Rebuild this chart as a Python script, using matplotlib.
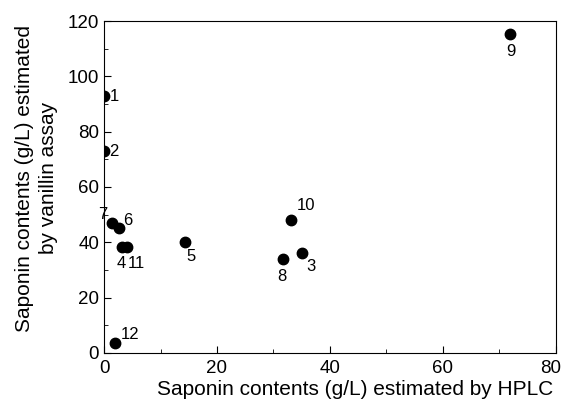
import numpy as np
from matplotlib import pyplot as plt
from matplotlib.ticker import MultipleLocator, FuncFormatter

plt.rcParams['font.family'] = ['Liberation Sans', 'DejaVu Sans']

# sample number, HPLC estimate (g/L), vanillin estimate (g/L)
sample_ids = ["1", "2", "3", "4", "5", "6", "7", "8", "9", "10", "11", "12"]
hplc = [0.0, 0.0, 35.0, 3.2, 14.3, 2.7, 1.4, 31.6, 71.9, 33.1, 4.0, 2.0]
vanillin = [93.0, 73.0, 36.2, 38.3, 40.2, 45.0, 47.0, 33.8, 115.3, 48.0, 38.3, 3.5]

x_max = 80
y_max = 120

# label offsets in points, per sample
offsets = {
    "1": (4, -6), "2": (4, -6), "3": (3, -15), "4": (-4, -17),
    "5": (1, -16), "6": (3, 0), "7": (-10, 1), "8": (-4, -18),
    "9": (-3, -18), "10": (4, 5), "11": (1, -17), "12": (4, 1),
}

fig = plt.figure(figsize=(5.64, 4.07), dpi=100)
ax = fig.add_axes([0.1844, 0.1327, 0.8014, 0.8157])

ax.plot(hplc, vanillin, 'o', color='black', markersize=7.5, clip_on=True)
for sid, x, y in zip(sample_ids, hplc, vanillin):
    dx, dy = offsets[sid]
    ax.annotate(sid, (x, y), xytext=(dx, dy), textcoords='offset points',
                fontsize=12, va='bottom', ha='left', annotation_clip=False)

ax.set_xlim(0, x_max)
ax.set_ylim(0, y_max)
ax.xaxis.set_major_locator(MultipleLocator(20))
ax.xaxis.set_minor_locator(MultipleLocator(10))
ax.yaxis.set_major_locator(MultipleLocator(20))
ax.yaxis.set_minor_locator(MultipleLocator(10))
ax.tick_params(which='both', direction='in', top=False, right=False, labelsize=13.5)
ax.tick_params(which='major', length=5)
ax.tick_params(which='minor', length=3)
ax.xaxis.set_tick_params(pad=5)

# last x tick label drawn by hand, nudged left so it stays inside the figure
ax.xaxis.set_major_formatter(FuncFormatter(lambda v, p: "" if v >= x_max else f"{v:.0f}"))
ax.annotate(f"{x_max}", xy=(x_max, 0), xycoords=('data', 'axes fraction'),
            xytext=(-4, -5), textcoords='offset points', ha='center', va='top',
            fontsize=13.5, annotation_clip=False)

ax.set_xlabel("Saponin contents (g/L) estimated by HPLC", fontsize=15)
ax.xaxis.set_label_coords(0.555, -0.08)
ax.xaxis.label.set_va('top')
ax.set_ylabel("Saponin contents (g/L) estimated\nby vanillin assay", fontsize=15,
              linespacing=1.35)
ax.yaxis.set_label_coords(-0.102, 0.527)

fig.savefig("out.png", dpi=100)
